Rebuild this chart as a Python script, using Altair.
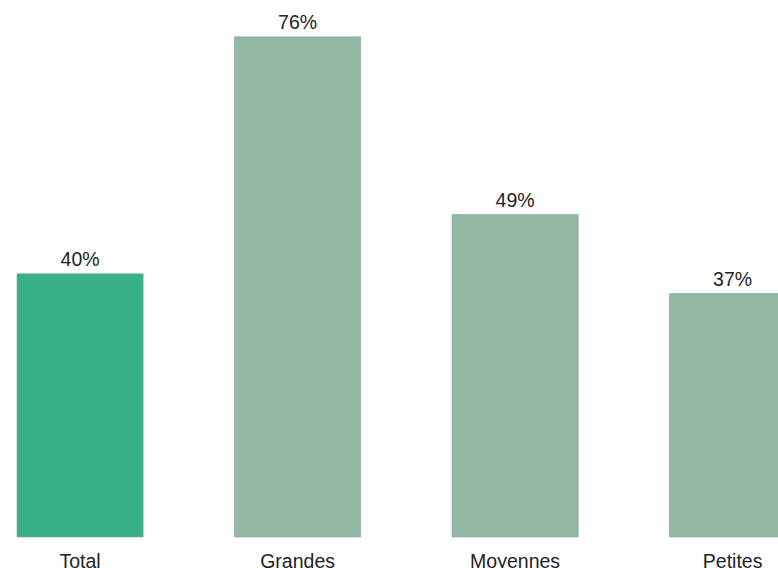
import altair as alt
import pandas as pd

categories = ["Total", "Grandes", "Moyennes", "Petites"]
values = [40, 76, 49, 37]
labels = ["40%", "76%", "49%", "37%"]
colors = ["#38b088", "#93b9a5", "#93b9a5", "#93b9a5"]

df = pd.DataFrame({"cat": categories, "val": values, "lab": labels, "col": colors})

x = alt.X("cat:N", sort=categories, title=None,
          scale=alt.Scale(range=[17, 795.7], paddingInner=0.42, paddingOuter=0),
          axis=alt.Axis(labelAngle=0, domain=False, ticks=False, tickSize=0, grid=False,
                        labelPadding=30, labelBaseline="alphabetic",
                        labelFont="Liberation Sans", labelFontSize=19.5,
                        labelColor="#222222"))
y = alt.Y("val:Q", title=None, scale=alt.Scale(domain=[0, 81.6], nice=False), axis=None)

bars = alt.Chart(df).mark_bar(stroke="#7fa592", strokeWidth=0.6).encode(
    x=x, y=y, color=alt.Color("col:N", scale=None)
)
text = alt.Chart(df).mark_text(dy=-8, baseline="alphabetic", font="Liberation Sans",
                               fontSize=19.5, color="#222222").encode(
    x=alt.X("cat:N", sort=categories), y="val:Q", text="lab:N"
)

chart = (bars + text).properties(
    width=778, height=537,
    background="white",
    autosize=alt.AutoSizeParams(type="none"),
    padding={"left": 0, "top": 0, "right": 0, "bottom": 31},
).configure_view(stroke=None, strokeWidth=0)

chart.save("out.html", embed_options={"renderer": "svg", "actions": False})
